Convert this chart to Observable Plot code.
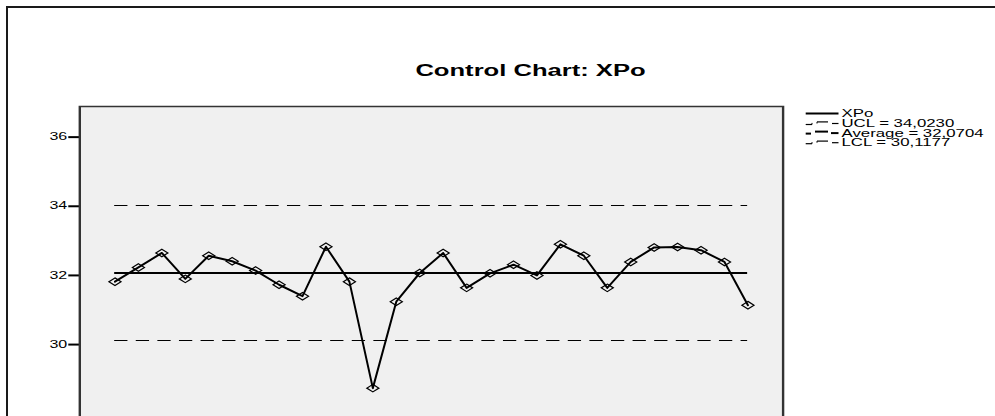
<!DOCTYPE html>
<html><head><meta charset="utf-8">
<script src="https://cdn.jsdelivr.net/npm/d3@7"></script>
<script src="https://cdn.jsdelivr.net/npm/@observablehq/plot@0.6"></script>
<style>
html,body{margin:0;padding:0;overflow:hidden;background:#fff;}
#chart{position:absolute;left:0;top:0;width:995px;height:416px;overflow:hidden;}
</style></head><body>
<div id="chart"></div>
<script>
// ---- data ----
const samples = [1,2,3,4,5,6,7,8,9,10,11,12,13,14,15,16,17,18,19,20,21,22,23,24,25,26,27,28];
const xpo = [31.82,32.23,32.65,31.90,32.57,32.41,32.14,31.73,31.40,32.83,31.82,28.74,31.24,32.07,32.65,31.64,32.06,32.31,32.00,32.90,32.57,31.64,32.39,32.81,32.82,32.73,32.39,31.14];
const ucl = 34.0230;
const average = 32.0704;
const lcl = 30.1177;
const yTicks = [30, 32, 34, 36];
const titleText = "Control Chart: XPo";
const legendLabels = ["XPo", "UCL = 34,0230", "Average = 32,0704", "LCL = 30,1177"];

// ---- layout (the reference is horizontally stretched) ----
const S = 1.6;
const W = 995 / S;
const H = 450;
const font = "'Liberation Sans', Arial, sans-serif";

const data = samples.map((s, i) => ({sample: s, value: xpo[i]}));
const first = samples[0], last = samples[samples.length - 1];

const svg = Plot.plot({
  width: W, height: H,
  marginLeft: 79 / S, marginRight: W - 782.3 / S, marginTop: 106, marginBottom: 0,
  style: {fontFamily: font, fontSize: "10px", background: "transparent", overflow: "hidden", color: "#000"},
  x: {domain: [first - 1.5, last + 1.5], axis: null},
  y: {domain: [26.936, 36.886]},
  marks: [
    Plot.frame({fill: "#f0f0f0", stroke: "none"}),
    Plot.ruleY([ucl, lcl], {x1: first, x2: last, stroke: "#000", strokeWidth: 1, strokeDasharray: "8.3,5.2"}),
    Plot.ruleY([average], {x1: first, x2: last, stroke: "#000", strokeWidth: 2}),
    Plot.line(data, {x: "sample", y: "value", stroke: "#000", strokeWidth: 2}),
    Plot.dot(data, {x: "sample", y: "value", symbol: "diamond2", r: 3.4, stroke: "#000", strokeWidth: 1.2, fill: "none"}),
    Plot.axisY({ticks: yTicks, tickSize: 6.7, tickPadding: 1.2, label: null, strokeWidth: 2, fontSize: 10}),
    Plot.frame({stroke: "#333", strokeWidth: 1.5})
  ]
});

svg.setAttribute("width", 995);
svg.setAttribute("height", H);
svg.setAttribute("viewBox", `0 0 ${W} ${H}`);
svg.setAttribute("preserveAspectRatio", "none");
svg.style.maxWidth = "none";
svg.style.height = H + "px";
svg.style.width = "995px";

const sel = d3.select(svg);
sel.selectAll('g[aria-label="line"] path, g[aria-label="dot"] path, g[aria-label="frame"] rect')
  .style("vector-effect", "non-scaling-stroke");

// outer border (top and left edges only are within the picture)
sel.append("path")
  .attr("d", `M${7 / S},${H + 10}L${7 / S},7L${W + 10},7`)
  .attr("fill", "none").attr("stroke", "#1a1a1a").attr("stroke-width", 2)
  .style("vector-effect", "non-scaling-stroke");

// title
sel.append("text")
  .attr("x", 530.5 / S).attr("y", 76.5)
  .attr("text-anchor", "middle")
  .attr("font-family", font).attr("font-weight", "bold").attr("font-size", 16)
  .attr("fill", "#000")
  .text(titleText);

// legend
const lg = sel.append("g").attr("font-family", font).attr("font-size", 10.5)
  .attr("fill", "#000").attr("text-anchor", "start");
const rowY = [113.5, 123.2, 132.8, 142.4];
const lx0 = 805.7, lx1 = 838.5, tx = 841.5;
function seg(y, a, b, dy, w) {
  lg.append("line").attr("x1", a / S).attr("x2", b / S).attr("y1", y + dy).attr("y2", y + dy)
    .attr("stroke", "#000").attr("stroke-width", w);
}
function tick(x, y1, y2) {
  lg.append("line").attr("x1", x / S).attr("x2", x / S).attr("y1", y1).attr("y2", y2)
    .attr("stroke", "#000").attr("stroke-width", 1).style("vector-effect", "non-scaling-stroke");
}
legendLabels.forEach((lab, i) => {
  const y = rowY[i];
  if (i === 0) {
    seg(y, lx0, lx1, 0, 2);
  } else if (i === 2) {
    seg(y, lx0, 811, 0.8, 2); seg(y, 815, 828, -1.2, 2); seg(y, 831, lx1, 0.3, 2);
  } else {
    seg(y, lx0, 812, 1.3, 1.2); tick(812, 1.3 + y, y - 0.3);
    seg(y, 817, 828, -1.3, 1.2); tick(817, y - 1.3, y + 0.3);
    seg(y, 832, lx1, 0.3, 1.2);
  }
  lg.append("text").attr("x", tx / S).attr("y", y).attr("dy", "0.36em").text(lab);
});

document.getElementById("chart").appendChild(svg);
</script>
</body></html>
